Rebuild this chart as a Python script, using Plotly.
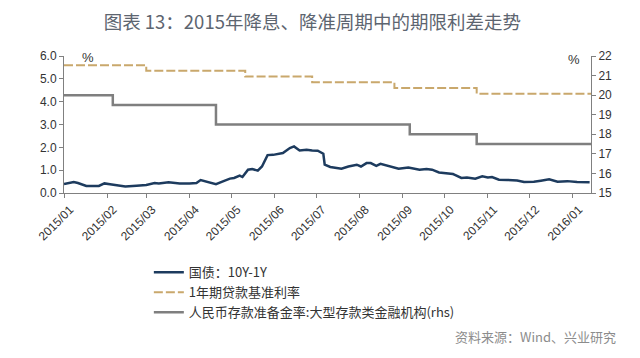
import plotly.graph_objects as go

# ---- data ----
spread_dates = ["2015-01-01","2015-01-08","2015-01-11","2015-01-17","2015-01-26","2015-01-30",
    "2015-02-03","2015-02-10","2015-02-14","2015-02-22","2015-03-01","2015-03-07","2015-03-10",
    "2015-03-17","2015-03-25","2015-04-01","2015-04-06","2015-04-09","2015-04-13","2015-04-16",
    "2015-04-20","2015-04-25","2015-04-30","2015-05-03","2015-05-07","2015-05-09","2015-05-13",
    "2015-05-16","2015-05-20","2015-05-23","2015-05-27","2015-05-31","2015-06-03","2015-06-07",
    "2015-06-12","2015-06-15","2015-06-19","2015-06-24","2015-06-28","2015-07-02","2015-07-06",
    "2015-07-07","2015-07-11","2015-07-14","2015-07-19","2015-07-24","2015-07-30","2015-08-02",
    "2015-08-06","2015-08-09","2015-08-13","2015-08-16","2015-08-22","2015-08-29","2015-09-05",
    "2015-09-13","2015-09-18","2015-09-22","2015-09-27","2015-10-02","2015-10-07","2015-10-08",
    "2015-10-13","2015-10-17","2015-10-23","2015-10-28","2015-11-01","2015-11-04","2015-11-09",
    "2015-11-15","2015-11-22","2015-11-27","2015-12-04","2015-12-09","2015-12-15","2015-12-21",
    "2015-12-28","2016-01-04","2016-01-11","2016-01-13"]
spread_values = [0.39,0.48,0.44,0.31,0.31,0.42,
    0.38,0.33,0.28,0.32,0.35,0.44,0.42,
    0.47,0.42,0.42,0.44,0.57,0.51,0.44,
    0.39,0.51,0.63,0.66,0.76,0.70,1.02,
    1.05,0.98,1.16,1.66,1.67,1.70,1.75,
    1.97,2.04,1.86,1.89,1.86,1.85,1.72,
    1.24,1.14,1.12,1.06,1.16,1.24,1.16,
    1.31,1.31,1.19,1.28,1.19,1.06,1.12,
    1.02,1.05,1.02,0.90,0.87,0.83,0.80,
    0.66,0.68,0.63,0.73,0.68,0.70,0.58,
    0.57,0.55,0.48,0.49,0.54,0.60,0.49,
    0.52,0.48,0.47,0.47]

loan_dates = ["2015-01-01","2015-03-01","2015-05-11","2015-06-28","2015-08-26","2015-10-24","2016-01-14"]
loan_values = [5.60, 5.35, 5.10, 4.85, 4.60, 4.35, 4.35]

rrr_dates = ["2015-01-01","2015-02-05","2015-04-20","2015-09-06","2015-10-24","2016-01-14"]
rrr_values = [20.0, 19.5, 18.5, 18.0, 17.5, 17.5]

names = ["国债：10Y-1Y", "1年期贷款基准利率", "人民币存款准备金率:大型存款类金融机构(rhs)"]
title_text = "图表 13：2015年降息、降准周期中的期限利差走势"
source_text = "资料来源：Wind、兴业研究"

fig = go.Figure()
fig.add_trace(go.Scatter(x=spread_dates, y=spread_values, name=names[0], mode="lines",
                         line=dict(color="#1d3b5e", width=2.5)))
fig.add_trace(go.Scatter(x=loan_dates, y=loan_values, name=names[1], mode="lines",
                         line=dict(color="#c9a86c", width=2, dash="9px,3px", shape="hv")))
fig.add_trace(go.Scatter(x=rrr_dates, y=rrr_values, name=names[2], mode="lines", yaxis="y2",
                         line=dict(color="#7f7f7f", width=2.5, shape="hv")))

tickfont = dict(family="Liberation Sans, Arial", size=12, color="#333333")
fig.update_layout(
    width=640, height=358,
    margin=dict(l=64, r=49, t=56, b=165),
    paper_bgcolor="white", plot_bgcolor="white",
    title=dict(text=title_text, x=0.488, xanchor="center", y=1 - 23/358, yanchor="middle",
               font=dict(family="Noto Sans CJK SC", size=18.5, color="#5d6570")),
    xaxis=dict(type="date", range=["2015-01-01", "2016-01-14"], tick0="2015-01-01", dtick="M1",
               tickformat="%Y/%m", tickangle=-45, ticks="outside", ticklen=4, tickcolor="#808080",
               showline=True, linecolor="#808080", linewidth=1, showgrid=False, zeroline=False,
               tickfont=tickfont, ticklabelshift=6),
    yaxis=dict(range=[0, 6], dtick=1, tickformat=".1f", ticks="outside", ticklen=4,
               tickcolor="#808080", showline=True, linecolor="#808080", showgrid=False,
               zeroline=False, tickfont=tickfont),
    yaxis2=dict(range=[15, 22], dtick=1, overlaying="y", side="right", ticks="outside", ticklen=4,
                tickcolor="#808080", showline=True, linecolor="#808080", showgrid=False,
                zeroline=False, tickfont=tickfont),
    legend=dict(x=0.161, y=-0.47, xanchor="left", yanchor="top", bgcolor="rgba(0,0,0,0)",
                font=dict(family="Noto Sans CJK SC", size=13, color="#333333"),
                tracegroupgap=0, itemwidth=30),
    showlegend=True,
)
fig.add_annotation(text="%", xref="paper", yref="paper", x=(88-64)/527, y=(193-57)/137,
                   xanchor="center", yanchor="middle", showarrow=False,
                   font=dict(family="Liberation Sans, Arial", size=13, color="#333"))
fig.add_annotation(text="%", xref="paper", yref="paper", x=(574-64)/527, y=(193-59)/137,
                   xanchor="center", yanchor="middle", showarrow=False,
                   font=dict(family="Liberation Sans, Arial", size=13, color="#333"))
fig.add_annotation(text=source_text, xref="paper", yref="paper", x=(618-64)/527,
                   y=(193-336)/137, xanchor="right", yanchor="middle", showarrow=False,
                   font=dict(family="Noto Sans CJK SC", size=13, color="#8c8c8c"))

fig.write_html("out.html", config={"displayModeBar": False},
               post_script="document.body.style.margin='0';")
